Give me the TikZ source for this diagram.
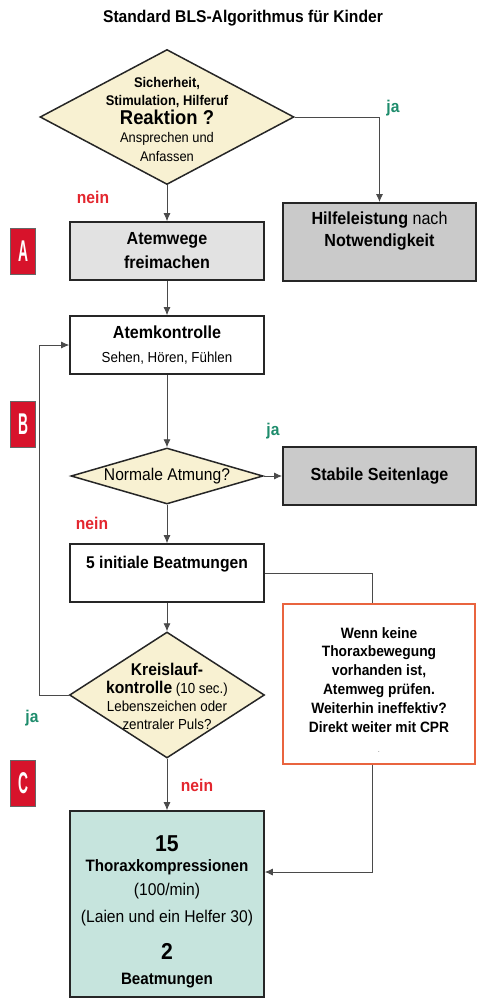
\documentclass[tikz,border=0pt]{standalone}
\usepackage{fontspec}
\setmainfont[FakeStretch=0.92]{Liberation Sans}
\usepackage{graphicx}
\usepackage{tikz}
\usetikzlibrary{shapes.geometric, arrows.meta, positioning}

\definecolor{cream}{HTML}{F8F1D2}
\definecolor{boxgrey}{HTML}{CACACA}
\definecolor{lightgrey}{HTML}{E2E2E2}
\definecolor{mint}{HTML}{C6E4DD}
\definecolor{neinred}{HTML}{E3262E}
\definecolor{jagreen}{HTML}{1E8C6C}
\definecolor{badgered}{HTML}{D7132B}
\definecolor{noteorange}{HTML}{E9643F}
\definecolor{linegrey}{HTML}{4A4A4A}

\tikzstyle{decision} = [diamond, draw=black!85, line width=1.5pt, fill=cream, inner sep=0pt]
\tikzstyle{process} = [rectangle, draw=black!85, line width=1.6pt, fill=white, inner sep=0pt, minimum width=194pt, minimum height=58pt, align=center]
\tikzstyle{greybox} = [process, fill=boxgrey, line width=2pt, minimum width=193pt]
\tikzstyle{badge} = [rectangle, draw=black!60, line width=0.6pt, fill=badgered, text=white, minimum width=25pt, minimum height=46pt, inner sep=0pt, font=\fontsize{30}{30}\selectfont\bfseries]
\tikzstyle{arrow} = [line width=0.8pt, draw=linegrey, -{Latex[length=8pt,width=7pt]}]
\tikzstyle{line} = [line width=0.8pt, draw=linegrey]
\tikzstyle{ja} = [text=jagreen, font=\fontsize{17}{17}\selectfont\bfseries]
\tikzstyle{nein} = [text=neinred, font=\fontsize{17}{17}\selectfont\bfseries]

\begin{document}
\begin{tikzpicture}[x=1pt, y=-1pt]
  \useasboundingbox (0,0) rectangle (477,999);

  % Titel
  \node[font=\fontsize{17}{17}\selectfont\bfseries] (title) at (243,18) {Standard BLS-Algorithmus für Kinder};

  % Reaktion
  \node[decision, minimum width=254pt, minimum height=135pt] (react) at (167,117) {};
  \node[align=center, font=\fontsize{14}{18.5}\selectfont] (reacttxt) at (167,119)
    {\textbf{Sicherheit,}\\\textbf{Stimulation, Hilferuf}\\{\fontsize{20}{20}\selectfont\bfseries Reaktion ?}\\Ansprechen und\\Anfassen};

  \node[greybox, minimum height=78pt] (help) at (379.5,242) {};
  \node[align=center, font=\fontsize{17.5}{22}\selectfont] (helptxt) at (379.5,231) {\textbf{Hilfeleistung} nach\\\textbf{Notwendigkeit}};

  \node[process, fill=lightgrey, font=\fontsize{17.5}{24}\selectfont\bfseries] (airway) at (167,251) {Atemwege\\freimachen};
  \node[process, font=\fontsize{14.5}{24}\selectfont] (breath) at (167,345) {{\fontsize{17.5}{24}\selectfont\bfseries Atemkontrolle}\\Sehen, Hören, Fühlen};

  % Atmung
  \node[decision, minimum width=192pt, minimum height=56pt] (normal) at (167,476) {};
  \node[font=\fontsize{17}{17}\selectfont] (normaltxt) at (167,476) {Normale Atmung?};
  \node[greybox, font=\fontsize{17.5}{17.5}\selectfont\bfseries] (stable) at (379.5,476) {Stabile Seitenlage};

  \node[process] (init) at (167,573) {};
  \node[font=\fontsize{17}{17}\selectfont\bfseries] (inittxt) at (167,564) {5 initiale Beatmungen};

  % Hinweis
  \node[rectangle, draw=noteorange, line width=1.2pt, fill=white, minimum width=192pt, minimum height=160pt] (note) at (379,684) {};
  \node[align=center, font=\fontsize{15}{18.8}\selectfont\bfseries] (notetxt) at (379,690)
    {Wenn keine\\Thoraxbewegung\\vorhanden ist,\\Atemweg prüfen.\\Weiterhin ineffektiv?\\Direkt weiter mit CPR\\[2pt]{\mdseries\fontsize{8}{8}\selectfont\color{gray}.}};

  % Kreislauf
  \node[decision, minimum width=195pt, minimum height=126pt] (circ) at (167,695) {};
  \node[align=center, font=\fontsize{14.5}{18}\selectfont] (circtxt) at (167,696)
    {{\fontsize{17}{17}\selectfont\bfseries Kreislauf-}\\{\fontsize{17}{17}\selectfont\bfseries kontrolle} (10 sec.)\\Lebenszeichen oder\\zentraler Puls?};

  \node[process, fill=mint, minimum height=186pt] (cpr) at (167,904) {};
  \node[align=center, font=\fontsize{17}{24}\selectfont] (cprtxt) at (167,912)
    {{\fontsize{23}{23}\selectfont\bfseries 15}\\[-4pt]{\fontsize{16.5}{24}\selectfont\bfseries Thoraxkompressionen}\\(100/min)\\[3pt](Laien und ein Helfer 30)\\[13pt]{\fontsize{23}{23}\selectfont\bfseries 2}\\[1pt]{\fontsize{16.5}{24}\selectfont\bfseries Beatmungen}};

  % Buchstaben
  \node[badge] (badgeA) at (23,251) {\scalebox{0.5}[1]{A}};
  \node[badge] (badgeB) at (23,424) {\scalebox{0.5}[1]{B}};
  \node[badge] (badgeC) at (23,783) {\scalebox{0.5}[1]{C}};

  % Pfeile
  \draw[arrow] (react.east) -| (help.north);
  \draw[arrow] (react) -- (airway);
  \draw[arrow] (airway) -- (breath);
  \draw[arrow] (breath) -- (normal);
  \draw[arrow] (normal) -- (stable);
  \draw[arrow] (normal) -- (init);
  \draw[arrow] (init) -- (circ);
  \draw[arrow] (circ) -- (cpr);
  \draw[arrow] (circ.west) -- ++(-29,0) |- (breath.west);
  \draw[line] (init.east) -| ([xshift=-7pt]note.north);
  \draw[arrow] ([xshift=-7pt]note.south) |- ([yshift=32pt]cpr.east);

  % ja / nein
  \node[ja] (ja1) at (393,108) {ja};
  \node[nein] (nein1) at (93,197) {nein};
  \node[ja] (ja2) at (273,431) {ja};
  \node[nein] (nein2) at (92,523) {nein};
  \node[ja] (ja3) at (32,718) {ja};
  \node[nein] (nein3) at (197,785) {nein};

\end{tikzpicture}
\end{document}
